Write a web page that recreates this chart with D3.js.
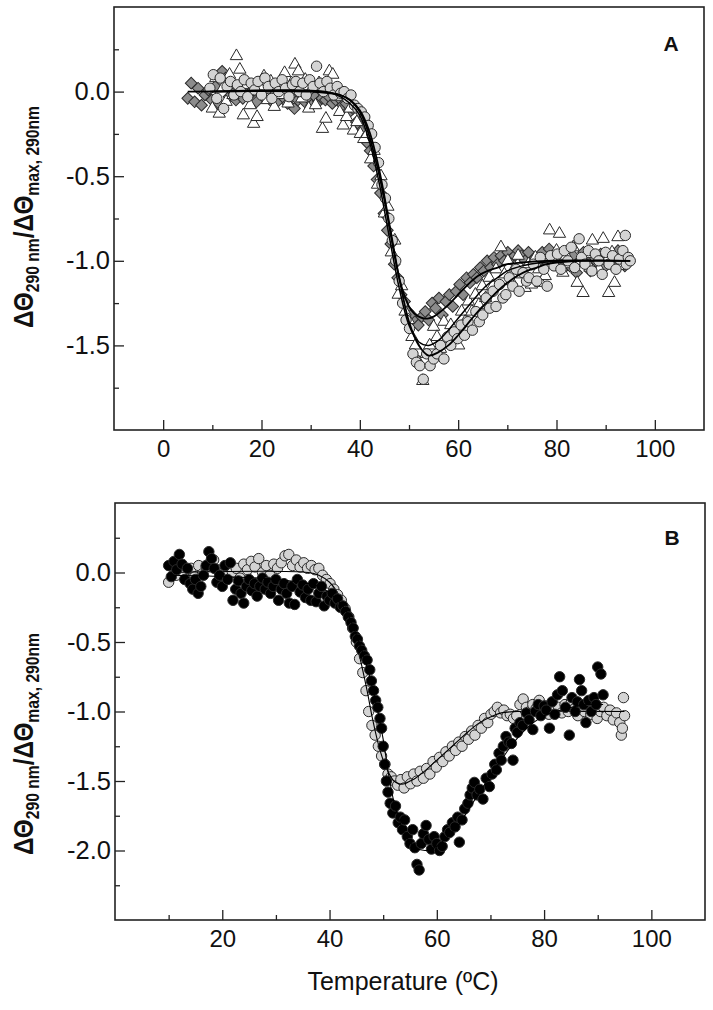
<!DOCTYPE html>
<html lang="en">
<head>
<meta charset="utf-8">
<title>CD 290 nm melting</title>
<script src="https://cdn.jsdelivr.net/npm/d3@7"></script>
<style>
  body { margin: 0; background: #fff; }
  svg text { font-family: "Liberation Sans", Arial, sans-serif; fill: #111; }
</style>
</head>
<body>
<script>
// ---- panel A data: [temperature (C), normalised signal] ----
var diamondsA = [[5,-0.04],[5.7,0.05],[6.4,-0.06],[7.1,0.02],[7.8,-0.08],[8.5,-0.02],[9.2,0.01],[9.9,-0.05],[10.6,0.03],[11.3,-0.07],[12,0.12],[12.7,0.08],[13.4,-0.03],[14.1,0],[14.8,-0.05],[15.5,0.02],[16.2,-0.04],[16.9,0.04],[17.6,-0.02],[18.3,0.01],[19,-0.06],[19.7,0.02],[20.4,-0.03],[21.1,0],[21.8,-0.05],[22.5,-0.02],[23.2,-0.06],[23.9,0.01],[24.6,-0.04],[25.3,-0.07],[26,-0.03],[26.7,-0.1],[27.4,-0.05],[28.1,-0.02],[28.8,-0.06],[29.5,-0.04],[30.2,-0.08],[30.9,-0.03],[31.6,-0.06],[32.3,-0.04],[33,-0.05],[33.7,-0.03],[34.4,-0.07],[35.1,-0.05],[35.8,-0.04],[36.5,-0.08],[37.2,-0.07],[37.9,-0.12],[38.6,-0.1],[39.3,-0.18],[40,-0.2],[40.7,-0.22],[41.4,-0.3],[42.1,-0.35],[42.8,-0.44],[43.5,-0.52],[44.2,-0.6],[44.9,-0.72],[45.6,-0.82],[46.3,-0.9],[47,-1.02],[47.7,-1.1],[48.4,-1.2],[49.1,-1.24],[49.8,-1.3],[50.5,-1.32],[51.2,-1.36],[51.9,-1.38],[52.6,-1.33],[53.3,-1.3],[54,-1.35],[54.7,-1.25],[55.4,-1.28],[56.1,-1.22],[56.8,-1.32],[57.5,-1.24],[58.2,-1.2],[58.9,-1.27],[59.6,-1.18],[60.3,-1.14],[61,-1.2],[61.7,-1.1],[62.4,-1.13],[63.1,-1.08],[63.8,-1.1],[64.5,-1.04],[65.2,-1.06],[65.9,-1.0],[66.6,-1.04],[67.3,-0.98],[68,-1.02],[68.7,-0.97],[69.4,-1.0],[70.1,-0.95],[70.8,-0.99],[71.5,-0.97],[72.2,-0.94],[72.9,-0.97],[73.6,-1.0],[74.3,-0.95],[75,-1.02],[75.7,-0.98],[76.4,-1.03],[77.1,-0.95],[77.8,-1.0],[78.5,-0.93],[79.2,-0.97],[79.9,-1.02],[80.6,-0.96],[81.3,-1.05],[82,-0.98],[82.7,-1.03],[83.4,-0.97],[84.1,-1.07],[84.8,-1.0],[85.5,-0.95],[86.2,-1.02],[86.9,-1.06],[87.6,-0.98],[88.3,-1.01],[89,-0.96],[89.7,-1.04],[90.4,-0.99],[91.1,-1.02],[91.8,-0.97],[92.5,-0.94],[93.2,-1.0],[93.9,-1.03],[94.6,-0.99]];

var circlesA = [[9.5,0.02],[10.2,0.1],[10.9,-0.04],[11.6,0.08],[12.3,-0.1],[13,0.03],[13.7,0.06],[14.4,-0.02],[15.1,0.04],[15.8,0],[16.5,0.07],[17.2,-0.03],[17.9,0.05],[18.6,0.01],[19.3,0.06],[20,-0.02],[20.7,0.08],[21.4,0.03],[22.1,-0.04],[22.8,0.05],[23.5,0],[24.2,0.07],[24.9,0.02],[25.6,-0.03],[26.3,0.04],[27,0.06],[27.7,0],[28.4,0.05],[29.1,-0.02],[29.8,0.07],[30.5,0.03],[31.2,0.15],[31.9,0.05],[32.6,0],[33.3,0.06],[34,0.02],[34.7,-0.02],[35.4,0.03],[36.1,-0.01],[36.8,0],[37.5,-0.04],[38.2,-0.02],[38.9,-0.08],[39.6,-0.1],[40.3,-0.12],[41,-0.15],[41.7,-0.2],[42.4,-0.25],[43.1,-0.33],[43.8,-0.42],[44.5,-0.55],[45.2,-0.63],[45.9,-0.75],[46.6,-0.88],[47.3,-1.0],[48,-1.12],[48.7,-1.25],[49.4,-1.35],[50.1,-1.4],[50.8,-1.55],[51.5,-1.6],[52.2,-1.62],[52.9,-1.7],[53.6,-1.55],[54.3,-1.62],[55,-1.58],[55.7,-1.55],[56.4,-1.5],[57.1,-1.58],[57.8,-1.45],[58.5,-1.5],[59.2,-1.42],[59.9,-1.46],[60.6,-1.38],[61.3,-1.44],[62,-1.36],[62.9,-1.41],[63.6,-1.3],[64.3,-1.36],[65,-1.32],[65.7,-1.22],[66.4,-1.28],[67.1,-1.18],[67.7,-1.27],[68.4,-1.14],[69.1,-1.22],[69.7,-1.2],[70.4,-1.1],[71.1,-1.15],[71.8,-1.05],[72.4,-1.18],[73.2,-1.07],[73.9,-1.12],[74.4,-1.1],[75.3,-1.02],[76,-1.12],[76.7,-0.98],[77.4,-1.05],[78.1,-1.15],[78.8,-0.97],[79.5,-1.03],[80.2,-0.96],[80.9,-1.05],[81.6,-0.94],[82.3,-1.0],[83,-0.92],[83.7,-1.04],[84.6,-0.87],[85.1,-0.98],[85.8,-1.02],[86.5,-0.94],[87.2,-1.06],[87.9,-0.96],[88.6,-1.0],[89.3,-1.08],[90,-0.95],[90.7,-1.02],[91.4,-0.97],[92.1,-1.05],[92.8,-0.99],[93.5,-0.94],[94,-0.85],[94.2,-1.02],[94.6,-0.98],[95,-1.0]];

var trianglesA = [[10,-0.1],[10.7,0.08],[11.4,-0.13],[12.1,0.02],[12.8,-0.06],[13.5,0.1],[14.2,-0.02],[14.9,0.21],[15.6,0.13],[16.3,-0.14],[17,0.04],[17.7,-0.08],[18.4,-0.19],[19.1,-0.15],[19.8,0.02],[20.5,0.09],[21.2,-0.05],[21.9,0.06],[22.6,-0.09],[23.3,0.03],[24,-0.02],[24.7,0.11],[25.4,-0.07],[26.1,0.05],[26.8,0.16],[27.5,0.12],[28.2,-0.04],[28.9,0.07],[29.6,-0.1],[30.3,0.02],[31,-0.08],[31.7,0.05],[32.4,-0.22],[33.1,-0.16],[33.8,0.12],[34.5,0.1],[35.2,-0.03],[35.9,-0.12],[36.6,-0.2],[37.3,-0.15],[38,-0.1],[38.7,-0.23],[39.4,-0.18],[40.1,-0.25],[40.8,-0.28],[41.5,-0.25],[42.2,-0.4],[42.9,-0.35],[43.6,-0.55],[44.3,-0.5],[45,-0.72],[45.7,-0.68],[46.4,-0.95],[47.1,-0.88],[47.8,-1.2],[48.5,-1.15],[49.2,-1.3],[49.9,-1.35],[50.6,-1.45],[51.3,-1.5],[52,-1.6],[52.8,-1.71],[53.5,-1.55],[54.2,-1.5],[55,-1.39],[55.7,-1.45],[56.4,-1.52],[57.1,-1.36],[57.8,-1.46],[58.5,-1.38],[59.2,-1.45],[60.1,-1.5],[60.7,-1.3],[61.4,-1.36],[62.1,-1.24],[62.8,-1.3],[63.5,-1.2],[64.2,-1.26],[64.9,-1.15],[65.6,-1.22],[66.3,-1.1],[67,-1.15],[67.7,-1.05],[68.7,-0.92],[69.4,-1.08],[70.1,-1.0],[70.8,-1.12],[71.5,-1.04],[72.2,-0.97],[72.9,-1.08],[73.6,-1.16],[74.3,-1.02],[74.9,-1.14],[75.7,-0.98],[76.4,-1.05],[76.8,-1.13],[77.7,-1.09],[78.6,-0.82],[79.3,-1.0],[80,-0.94],[80.6,-0.84],[81.3,-1.07],[82,-0.97],[82.7,-1.02],[83.4,-0.92],[84.2,-1.13],[85,-1.0],[85.4,-1.19],[86.1,-0.96],[86.8,-1.04],[87.3,-0.88],[88,-0.98],[88.7,-1.05],[89.5,-0.87],[90.2,-1.0],[90.6,-1.19],[91.3,-0.95],[91.8,-1.13],[92.5,-0.86],[93.2,-1.03],[93.9,-0.97]];

// fitted curves, panel A
var fitDiamondsA = [[5,0],[30,0],[34,-0.01],[36,-0.02],[38,-0.05],[40,-0.12],[41,-0.18],[42,-0.27],[43,-0.38],[44,-0.5],[45,-0.64],[46,-0.8],[47,-0.96],[48,-1.1],[49,-1.2],[50,-1.27],[51,-1.31],[52,-1.33],[53,-1.34],[54,-1.34],[55,-1.33],[56,-1.31],[58,-1.26],[60,-1.2],[62,-1.14],[64,-1.09],[66,-1.06],[68,-1.04],[70,-1.02],[73,-1.01],[78,-1.0],[95,-1.0]];
var fitCirclesA = [[9.5,0],[32,0],[36,-0.02],[38,-0.05],[40,-0.11],[42,-0.24],[44,-0.47],[46,-0.78],[48,-1.1],[50,-1.36],[52,-1.5],[54,-1.56],[56,-1.54],[58,-1.5],[60,-1.44],[62,-1.37],[64,-1.3],[66,-1.24],[68,-1.18],[70,-1.13],[72,-1.09],[74,-1.06],[76,-1.04],[78,-1.02],[80,-1.01],[85,-1.0],[95,-1.0]];
var fitTrianglesA = [[10,0],[33,0],[36,-0.03],[38,-0.07],[40,-0.14],[42,-0.3],[44,-0.55],[46,-0.86],[48,-1.16],[50,-1.38],[52,-1.48],[54,-1.5],[56,-1.47],[58,-1.41],[60,-1.34],[62,-1.27],[64,-1.2],[66,-1.14],[68,-1.1],[70,-1.06],[73,-1.03],[77,-1.01],[82,-1.0],[94,-1.0]];

// ---- panel B data ----
var greyB = [[10,-0.07],[10.7,0.04],[11.4,-0.02],[12.1,0.06],[12.8,0],[13.5,-0.05],[14.2,0.03],[14.9,-0.03],[15.6,0.05],[16.3,-0.01],[17,0.04],[17.7,0.07],[18.4,0.09],[19.1,0.02],[19.8,-0.03],[20.5,0.01],[21.2,0.05],[21.9,0],[22.6,0.03],[23.3,-0.04],[24,0.06],[24.7,0.02],[25.4,0.08],[26.1,0.04],[26.8,0.1],[27.5,0],[28.2,0.05],[28.9,-0.02],[29.6,0.06],[30.3,0.03],[31,0.07],[31.7,0.12],[32.4,0.13],[33.1,0.05],[33.8,0.09],[34.5,0.04],[35.2,0.07],[35.9,0.03],[36.6,0.05],[37.3,0.02],[38,0.03],[38.7,-0.02],[39.4,-0.05],[40.1,-0.08],[40.8,-0.12],[41.5,-0.16],[42.2,-0.2],[42.9,-0.26],[43.6,-0.32],[44.3,-0.4],[45,-0.5],[45.6,-0.62],[46.2,-0.72],[46.8,-0.85],[47.3,-1.0],[47.9,-1.1],[48.5,-1.17],[49.1,-1.25],[49.7,-1.32],[50.3,-1.38],[50.9,-1.45],[51.5,-1.47],[52.1,-1.5],[52.7,-1.53],[53.3,-1.49],[53.9,-1.55],[54.5,-1.47],[55.1,-1.52],[55.7,-1.45],[56.3,-1.5],[56.9,-1.43],[57.5,-1.48],[58.1,-1.41],[58.7,-1.45],[59.3,-1.36],[59.9,-1.4],[60.5,-1.33],[61.1,-1.36],[61.7,-1.29],[62.3,-1.32],[62.9,-1.25],[63.5,-1.28],[64.1,-1.22],[64.7,-1.25],[65.3,-1.18],[65.9,-1.2],[66.5,-1.14],[67.1,-1.17],[67.7,-1.1],[68.3,-1.12],[68.9,-1.05],[69.5,-1.08],[70.1,-1.02],[70.7,-1.0],[71.3,-0.97],[71.9,-1.01],[72.5,-0.99],[73.1,-1.03],[73.7,-1.02],[74.3,-1.05],[74.9,-1.03],[75.5,-0.95],[76.1,-0.91],[76.7,-0.97],[77.3,-1.0],[77.9,-0.95],[78.5,-0.98],[79.1,-0.92],[79.7,-1.0],[80.3,-0.96],[80.9,-1.02],[81.5,-0.94],[82.1,-0.99],[82.7,-0.97],[83.3,-1.01],[83.9,-0.95],[84.5,-1.0],[85.1,-0.93],[85.7,-0.98],[86.3,-1.03],[86.9,-0.96],[87.5,-1.0],[88.1,-0.94],[88.7,-1.02],[89.3,-0.98],[89.9,-1.05],[90.5,-1.0],[91.1,-0.97],[91.7,-1.03],[92.3,-0.99],[92.9,-1.06],[93.5,-1.01],[94.1,-1.08],[94.4,-1.17],[94.6,-1.12],[94.8,-0.9],[95,-1.03]];

var blackB = [[10,0.05],[10.5,-0.03],[11,0.08],[11.5,0.02],[12,0.13],[12.5,0.06],[13,-0.05],[13.5,0.03],[14,-0.08],[14.5,-0.12],[15,-0.05],[15.5,-0.15],[16,-0.1],[16.5,-0.02],[17,0.05],[17.5,0.15],[18,0.1],[18.5,0.03],[19,-0.07],[19.5,-0.02],[20,-0.1],[20.5,0.05],[21,-0.05],[21.5,0.07],[22,-0.2],[22.5,-0.12],[23,-0.06],[23.5,-0.15],[24,-0.22],[24.5,-0.1],[25,-0.05],[25.5,-0.13],[26,-0.08],[26.5,-0.17],[27,-0.1],[27.5,-0.04],[28,-0.12],[28.5,-0.07],[29,-0.15],[29.5,-0.1],[30,-0.05],[30.5,-0.2],[31,-0.12],[31.5,-0.08],[32,-0.15],[32.5,-0.22],[33,-0.1],[33.5,-0.23],[34,-0.05],[34.5,-0.14],[35,-0.09],[35.5,-0.18],[36,-0.12],[36.5,-0.2],[37,-0.08],[37.5,-0.21],[38,-0.15],[38.5,-0.1],[39,-0.24],[39.5,-0.17],[40,-0.2],[40.5,-0.15],[41,-0.22],[41.5,-0.19],[42,-0.25],[42.5,-0.24],[43,-0.28],[43.5,-0.32],[44,-0.36],[44.4,-0.4],[44.8,-0.46],[45.2,-0.48],[45.6,-0.53],[46,-0.56],[46.5,-0.6],[47,-0.63],[47.5,-0.7],[47.8,-0.78],[48.2,-0.85],[48.6,-0.92],[49,-0.97],[49.4,-1.05],[49.7,-1.12],[50,-1.25],[50.3,-1.38],[50.6,-1.5],[50.9,-1.58],[51.3,-1.66],[51.8,-1.73],[52.3,-1.68],[52.8,-1.8],[53.2,-1.76],[53.6,-1.85],[54,-1.78],[54.5,-1.9],[55,-1.95],[55.5,-1.85],[55.9,-1.98],[56.3,-2.1],[56.7,-2.14],[57.1,-1.95],[57.5,-1.88],[58,-1.82],[58.5,-1.92],[59,-1.99],[59.5,-1.9],[60,-1.95],[60.5,-2.0],[61,-1.97],[61.5,-1.9],[62,-1.85],[62.4,-1.87],[62.9,-1.8],[63.4,-1.83],[63.9,-1.76],[64.2,-1.94],[64.7,-1.78],[65.2,-1.7],[65.8,-1.66],[66.2,-1.6],[66.6,-1.55],[67,-1.51],[67.5,-1.6],[68,-1.56],[68.6,-1.63],[69.2,-1.48],[69.8,-1.54],[70.3,-1.45],[70.8,-1.38],[71.1,-1.42],[71.6,-1.3],[72,-1.35],[72.4,-1.25],[72.9,-1.18],[73.4,-1.22],[73.9,-1.23],[74.2,-1.35],[74.6,-1.12],[75,-1.15],[75.5,-1.08],[76,-1.1],[76.7,-1.01],[77.2,-1.06],[77.9,-1.13],[78.4,-1.0],[78.9,-0.95],[79.4,-1.03],[80,-0.96],[80.4,-0.99],[81,-1.12],[81.5,-0.93],[82,-1.02],[82.5,-0.88],[82.9,-0.75],[83.4,-0.85],[84,-0.97],[84.7,-1.17],[85.2,-0.9],[85.8,-1.0],[86.2,-0.93],[86.6,-0.77],[87,-0.85],[87.4,-0.95],[87.8,-1.08],[88.3,-0.92],[88.8,-1.0],[89.3,-0.9],[89.7,-0.95],[90,-0.68],[90.6,-0.73],[91,-0.88]];

var fitGreyB = [[10,0],[36,0],[38,-0.02],[40,-0.07],[42,-0.18],[44,-0.37],[45,-0.5],[46,-0.67],[47,-0.85],[48,-1.05],[49,-1.22],[50,-1.35],[51,-1.44],[52,-1.5],[53,-1.52],[54,-1.52],[55,-1.5],[56,-1.48],[58,-1.42],[60,-1.35],[62,-1.28],[64,-1.21],[66,-1.14],[68,-1.08],[70,-1.04],[72,-1.01],[75,-1.0],[95,-1.0]];
var fitBlackB = [[10,-0.02],[30,-0.05],[38,-0.1],[41,-0.18],[43,-0.27],[45,-0.45],[47,-0.68],[49,-1.0],[50,-1.2],[51,-1.45],[52,-1.65],[53,-1.78],[54,-1.88],[56,-1.98],[58,-2.0],[60,-1.97],[62,-1.9],[64,-1.82],[66,-1.7],[68,-1.58],[70,-1.46],[72,-1.35],[74,-1.24],[76,-1.15],[78,-1.08],[80,-1.03],[84,-0.98],[88,-0.95],[91,-0.95]];

// axis ticks
var xMajorA = [0, 20, 40, 60, 80, 100];
var xMinorA = [10, 30, 50, 70, 90];
var yMajorA = [0, -0.5, -1.0, -1.5];
var yMinorA = [0.25, -0.25, -0.75, -1.25, -1.75];
var xMajorB = [20, 40, 60, 80, 100];
var xMinorB = [10, 30, 50, 70, 90];
var yMajorB = [0, -0.5, -1.0, -1.5, -2.0];
var yMinorB = [0.25, -0.25, -0.75, -1.25, -1.75, -2.25];

var svg = d3.select("body").append("svg").attr("width", 713).attr("height", 1010);

function panel(opt) {
  var g = svg.append("g").attr("transform", "translate(" + opt.left + "," + opt.top + ")");
  var x = d3.scaleLinear().domain(opt.xDomain).range([0, opt.width]);
  var y = d3.scaleLinear().domain(opt.yDomain).range([opt.height, 0]);
  var fmt = d3.format(".1f");

  // ticks (inward)
  var xa = g.append("g").attr("transform", "translate(0," + opt.height + ")")
    .call(d3.axisBottom(x).tickValues(opt.xMajor).tickSize(-10).tickPadding(10).tickFormat(d3.format("d")));
  g.append("g").attr("transform", "translate(0," + opt.height + ")")
    .call(d3.axisBottom(x).tickValues(opt.xMinor).tickSize(-5).tickFormat(""));
  var ya = g.append("g")
    .call(d3.axisLeft(y).tickValues(opt.yMajor).tickSize(-10).tickPadding(4).tickFormat(function(d){ return fmt(d).replace("\u2212", "-"); }));
  g.append("g")
    .call(d3.axisLeft(y).tickValues(opt.yMinor).tickSize(-5).tickFormat(""));
  g.selectAll(".domain").remove();
  g.selectAll(".tick line").attr("stroke", "#222").attr("stroke-width", 1.3);
  g.selectAll(".tick text").attr("fill", "#111")
    .attr("font-family", "'Liberation Sans', Arial, sans-serif");
  xa.selectAll(".tick text").attr("font-size", 24);
  ya.selectAll(".tick text").attr("font-size", 25.5);

  var plot = g.append("g");
  // frame
  g.append("rect").attr("width", opt.width).attr("height", opt.height)
    .attr("fill", "none").attr("stroke", "#222").attr("stroke-width", 1.6);

  // panel letter
  g.append("text").attr("x", opt.width - 33).attr("y", opt.letterY)
    .attr("text-anchor", "middle").attr("font-size", 21).attr("font-weight", "bold")
    .text(opt.letter);

  // y title
  var t = svg.append("text")
    .attr("transform", "translate(" + opt.titleX + "," + opt.titleY + ") rotate(-90)")
    .attr("text-anchor", "middle").attr("font-weight", "bold").attr("font-size", 28)
    .attr("textLength", 222).attr("lengthAdjust", "spacingAndGlyphs");
  t.append("tspan").text("\u0394\u0398");
  t.append("tspan").attr("font-size", 18).attr("dy", 6).text("290 nm");
  t.append("tspan").attr("dy", -6).text("/\u0394\u0398");
  t.append("tspan").attr("font-size", 18).attr("dy", 6).text("max, 290nm");

  return {g: plot, x: x, y: y};
}

function drawCircles(p, data, fill, r) {
  p.g.append("g").selectAll("circle").data(data).enter().append("circle")
    .attr("cx", function(d){ return p.x(d[0]); })
    .attr("cy", function(d){ return p.y(d[1]); })
    .attr("r", r)
    .attr("fill", fill).attr("stroke", "#2a2a2a").attr("stroke-width", 1);
}

function drawSymbols(p, data, type, size, fill, rot) {
  var sym = d3.symbol().type(type).size(size);
  p.g.append("g").selectAll("path").data(data).enter().append("path")
    .attr("d", sym)
    .attr("transform", function(d){ return "translate(" + p.x(d[0]) + "," + p.y(d[1]) + ") rotate(" + (rot || 0) + ")"; })
    .attr("fill", fill).attr("stroke", "#2a2a2a").attr("stroke-width", 1);
}

function drawFit(p, data, w) {
  var line = d3.line().curve(d3.curveCatmullRom)
    .x(function(d){ return p.x(d[0]); })
    .y(function(d){ return p.y(d[1]); });
  p.g.append("path").datum(data).attr("d", line)
    .attr("fill", "none").attr("stroke", "#000").attr("stroke-width", w);
}

// ---- panel A ----
var pA = panel({left: 114, top: 7, width: 590, height: 423,
  xDomain: [-10, 110], yDomain: [-2.0, 0.5],
  xMajor: xMajorA, xMinor: xMinorA, yMajor: yMajorA, yMinor: yMinorA,
  letter: "A", letterY: 44, titleX: 33, titleY: 217});

drawSymbols(pA, diamondsA, d3.symbolSquare, 68, "#8c8c8c", 45);
drawSymbols(pA, trianglesA, d3.symbolTriangle, 66, "#fff");
drawCircles(pA, circlesA, "#d4d4d4", 5.2);
drawFit(pA, fitDiamondsA, 1.8);
drawFit(pA, fitTrianglesA, 1.5);
drawFit(pA, fitCirclesA, 1.8);

// ---- panel B ----
var pB = panel({left: 115, top: 503, width: 590, height: 417,
  xDomain: [0, 110], yDomain: [-2.5, 0.5],
  xMajor: xMajorB, xMinor: xMinorB, yMajor: yMajorB, yMinor: yMinorB,
  letter: "B", letterY: 42, titleX: 33, titleY: 744});

drawCircles(pB, greyB, "#d4d4d4", 5.2);
drawFit(pB, fitGreyB, 1.1);
drawCircles(pB, blackB, "#000", 5.2);
drawFit(pB, fitBlackB, 1.1);

// x title
svg.append("text").attr("x", 403).attr("y", 990).attr("text-anchor", "middle")
  .attr("font-size", 25).text("Temperature (\u00baC)");
</script>
</body>
</html>
